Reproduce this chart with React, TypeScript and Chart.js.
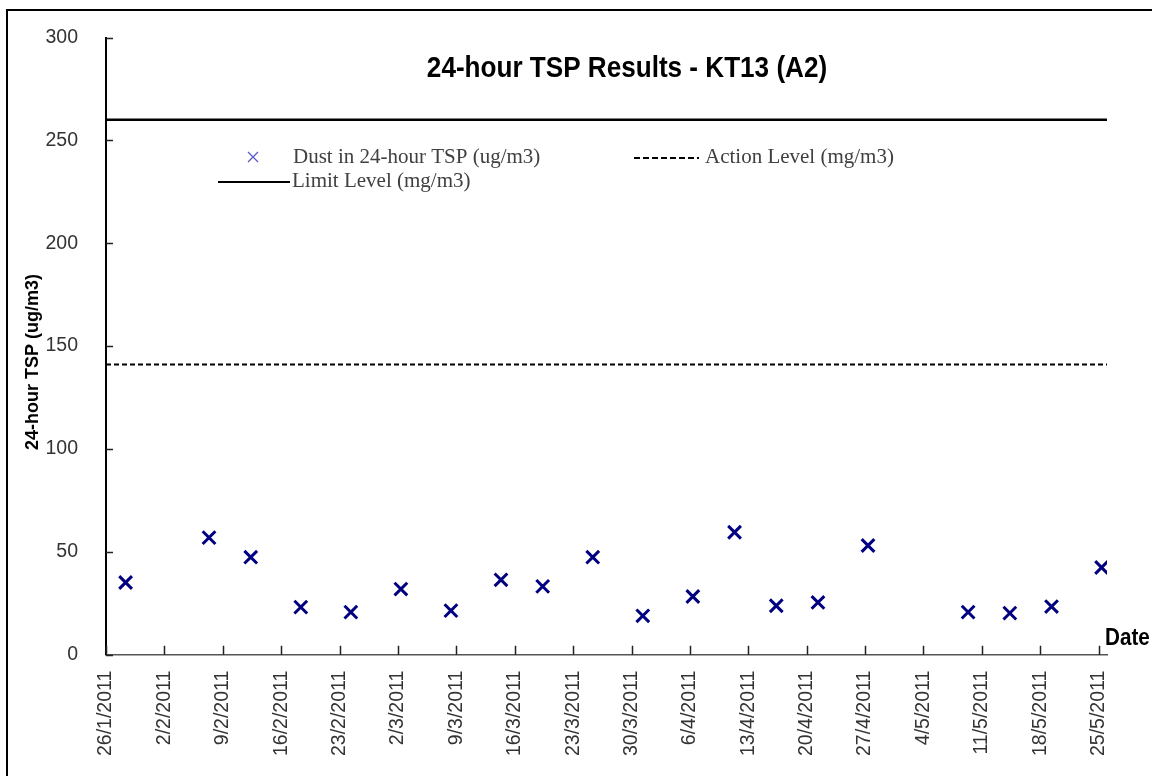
import React, { useEffect, useRef } from 'react';
import { Chart, registerables } from 'chart.js';

Chart.register(...registerables);

// ---- data ----
const sampleDates = [
  '28/1/2011', '7/2/2011', '12/2/2011', '18/2/2011', '24/2/2011',
  '2/3/2011', '8/3/2011', '14/3/2011', '19/3/2011', '25/3/2011',
  '31/3/2011', '6/4/2011', '11/4/2011', '16/4/2011', '21/4/2011',
  '27/4/2011', '9/5/2011', '14/5/2011', '19/5/2011', '25/5/2011',
];
const tspValues = [
  35.1, 56.9, 47.4, 23.1, 20.7,
  31.9, 21.4, 36.4, 33.2, 47.4,
  18.9, 28.3, 59.5, 23.8, 25.4,
  53.1, 20.7, 20.2, 23.4, 42.4,
];
const tickDates = [
  '26/1/2011', '2/2/2011', '9/2/2011', '16/2/2011', '23/2/2011', '2/3/2011',
  '9/3/2011', '16/3/2011', '23/3/2011', '30/3/2011', '6/4/2011', '13/4/2011',
  '20/4/2011', '27/4/2011', '4/5/2011', '11/5/2011', '18/5/2011', '25/5/2011',
];
const axisEndDate = '26/5/2011';
const yTicks = [0, 50, 100, 150, 200, 250, 300];
const limitLevel = [260, 260];
const actionLevel = [141, 141];

const TITLE = '24-hour TSP Results - KT13 (A2)';
const Y_TITLE = '24-hour TSP (ug/m3)';
const X_TITLE = 'Date';
const LEGEND_DUST = 'Dust in 24-hour TSP (ug/m3)';
const LEGEND_ACTION = 'Action Level (mg/m3)';
const LEGEND_LIMIT = 'Limit Level (mg/m3)';

const SANS = "'Liberation Sans', Arial, sans-serif";
const SERIF = "'Liberation Serif', 'Times New Roman', serif";

const BASE = Date.UTC(2011, 0, 26);
function dayOf(s: string): number {
  const [d, m, y] = s.split('/').map(Number);
  return Math.round((Date.UTC(y, m - 1, d) - BASE) / 86400000);
}
const MID_DAY = 0.35; // samples plotted within the day (Excel date axis)

const tickDays = tickDates.map(dayOf);
const xMax = dayOf(axisEndDate);

function condensedText(ctx: CanvasRenderingContext2D, text: string, x: number, y: number, sx: number, align: CanvasTextAlign) {
  ctx.save();
  ctx.translate(x, y);
  ctx.scale(sx, 1);
  ctx.textAlign = align;
  ctx.fillText(text, 0, 0);
  ctx.restore();
}

const decorPlugin = {
  id: 'decor',
  afterDraw(chart: any) {
    const ctx = chart.ctx as CanvasRenderingContext2D;
    const area = chart.chartArea;
    const xs = chart.scales.x;
    const ys = chart.scales.y;
    ctx.save();
    // inward ticks
    ctx.strokeStyle = '#222';
    ctx.lineWidth = 1.5;
    ctx.beginPath();
    yTicks.forEach((v) => {
      const py = Math.round(ys.getPixelForValue(v)) + 0.5;
      ctx.moveTo(area.left, py);
      ctx.lineTo(area.left + 7, py);
    });
    tickDays.forEach((d) => {
      const px = Math.round(xs.getPixelForValue(d)) + 0.5;
      ctx.moveTo(px, area.bottom);
      ctx.lineTo(px, area.bottom - 9);
    });
    ctx.stroke();

    // title
    ctx.fillStyle = '#000';
    ctx.textBaseline = 'alphabetic';
    ctx.font = `bold 30px ${SANS}`;
    condensedText(ctx, TITLE, 627, 77, 0.87, 'center');

    // x title
    ctx.font = `bold 24px ${SANS}`;
    condensedText(ctx, X_TITLE, 1105, 645, 0.86, 'left');

    // y title
    ctx.save();
    ctx.translate(33, 362);
    ctx.rotate(-Math.PI / 2);
    ctx.font = `bold 18px ${SANS}`;
    ctx.textAlign = 'center';
    ctx.textBaseline = 'middle';
    ctx.fillText(Y_TITLE, 0, 0);
    ctx.restore();

    // legend
    ctx.font = `21px ${SERIF}`;
    ctx.fillStyle = '#404040';
    ctx.textAlign = 'left';
    ctx.textBaseline = 'middle';
    // dust marker
    ctx.strokeStyle = '#5a5ac8';
    ctx.lineWidth = 1.3;
    ctx.beginPath();
    ctx.moveTo(248, 152); ctx.lineTo(258, 162);
    ctx.moveTo(258, 152); ctx.lineTo(248, 162);
    ctx.stroke();
    ctx.fillText(LEGEND_DUST, 293, 157);
    // action
    ctx.strokeStyle = '#000';
    ctx.lineWidth = 2;
    ctx.setLineDash([6, 3]);
    ctx.beginPath();
    ctx.moveTo(634, 158); ctx.lineTo(699, 158);
    ctx.stroke();
    ctx.setLineDash([]);
    ctx.fillText(LEGEND_ACTION, 705, 157);
    // limit
    ctx.lineWidth = 2;
    ctx.beginPath();
    ctx.moveTo(218, 182); ctx.lineTo(290, 182);
    ctx.stroke();
    ctx.fillText(LEGEND_LIMIT, 292, 181);
    ctx.restore();
  },
};

export default function App() {
  const ref = useRef<HTMLCanvasElement | null>(null);
  useEffect(() => {
    if (!ref.current) return;
    const chart = new Chart(ref.current, {
      type: 'scatter',
      data: {
        datasets: [
          {
            label: LEGEND_DUST,
            data: sampleDates.map((d, i) => ({ x: dayOf(d) + MID_DAY, y: tspValues[i] })),
            pointStyle: 'crossRot',
            pointRadius: 9,
            pointBorderWidth: 3,
            borderColor: '#000080',
            backgroundColor: '#000080',
            showLine: false,
          },
          {
            type: 'line',
            label: LEGEND_ACTION,
            data: [{ x: 0, y: actionLevel[0] }, { x: xMax, y: actionLevel[1] }],
            borderColor: '#000',
            borderWidth: 2,
            borderDash: [5, 3],
            pointRadius: 0,
            fill: false,
          },
          {
            type: 'line',
            label: LEGEND_LIMIT,
            data: [{ x: 0, y: limitLevel[0] }, { x: xMax, y: limitLevel[1] }],
            borderColor: '#000',
            borderWidth: 2.5,
            pointRadius: 0,
            fill: false,
          },
        ],
      } as any,
      options: {
        responsive: false,
        animation: false,
        layout: { padding: { top: 37.5, right: 45, left: 0, bottom: 0 } },
        plugins: { legend: { display: false }, tooltip: { enabled: false }, title: { display: false } },
        scales: {
          x: {
            type: 'linear',
            min: 0,
            max: xMax,
            afterBuildTicks: (scale: any) => {
              scale.ticks = tickDays.map((v) => ({ value: v }));
            },
            afterFit: (scale: any) => {
              scale.height = 121.3;
              scale.paddingLeft = 0;
              scale.paddingRight = 0;
            },
            grid: { display: false, drawTicks: false },
            border: { display: true, color: '#555', width: 1.5 },
            ticks: {
              autoSkip: false,
              maxRotation: 90,
              minRotation: 90,
              padding: 16,
              color: '#333',
              font: { family: SANS, size: 19.5 },
              callback: (v: any) => {
                const i = tickDays.indexOf(Number(v));
                return i >= 0 ? tickDates[i] : '';
              },
            },
          },
          y: {
            type: 'linear',
            min: 0,
            max: 300,
            afterBuildTicks: (scale: any) => {
              scale.ticks = yTicks.map((v) => ({ value: v }));
            },
            afterFit: (scale: any) => {
              scale.width = 106;
              scale.paddingTop = 0;
              scale.paddingBottom = 0;
            },
            grid: { display: false, drawTicks: false },
            border: { display: true, color: '#000', width: 2 },
            ticks: {
              padding: 28,
              color: '#333',
              font: { family: SANS, size: 19.5 },
            },
          },
        },
      } as any,
      plugins: [decorPlugin],
    });
    return () => chart.destroy();
  }, []);

  return (
    <div style={{ position: 'fixed', left: 0, top: 0, width: 1152, height: 776, overflow: 'hidden', background: '#fff' }}>
      <div style={{ position: 'absolute', left: 6, top: 9, width: 1300, height: 900, border: '2px solid #000' }} />
      <canvas ref={ref} width={1152} height={776} style={{ position: 'absolute', left: 0, top: 0, display: 'block' }} />
    </div>
  );
}
